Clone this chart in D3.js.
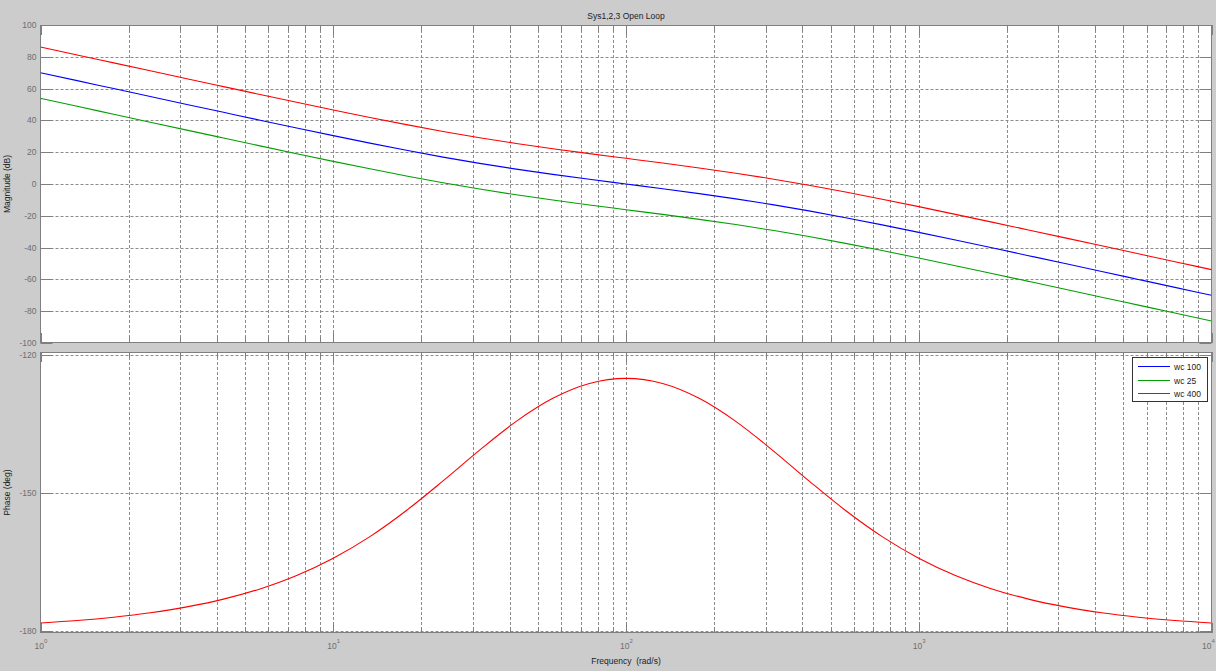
<!DOCTYPE html>
<html>
<head>
<meta charset="utf-8">
<script src="https://cdn.jsdelivr.net/npm/d3@7"></script>
<style>
  html, body { margin: 0; padding: 0; background: #cccccc; }
  svg { display: block; font-family: "Liberation Sans", Arial, sans-serif; }
  text { white-space: pre; }
</style>
</head>
<body>
<svg id="chart" width="1216" height="671"></svg>
<script>
// ---- data ----
const freqs = [1, 1.334, 1.778, 2.371, 3.162, 4.217, 5.623, 7.499,
  10, 13.34, 17.78, 23.71, 31.62, 42.17, 56.23, 74.99,
  100, 133.4, 177.8, 237.1, 316.2, 421.7, 562.3, 749.9,
  1000, 1334, 1778, 2371, 3162, 4217, 5623, 7499, 10000];

const magWc100 = [70.00, 65.01, 60.01, 55.02, 50.04, 45.08, 40.13, 35.24,
  30.41, 25.70, 21.18, 16.91, 12.97, 9.36, 6.06, 2.97,
  0.00, -2.97, -6.06, -9.36, -12.97, -16.91, -21.18, -25.70,
  -30.41, -35.24, -40.13, -45.08, -50.04, -55.02, -60.01, -65.01, -70.00];

const magWc25 = [53.84, 48.85, 43.85, 38.86, 33.88, 28.92, 23.97, 19.08,
  14.25, 9.54, 5.02, 0.75, -3.19, -6.80, -10.10, -13.19,
  -16.16, -19.13, -22.22, -25.52, -29.13, -33.07, -37.34, -41.86,
  -46.57, -51.40, -56.29, -61.24, -66.20, -71.18, -76.17, -81.17, -86.16];

const magWc400 = [86.16, 81.17, 76.17, 71.18, 66.20, 61.24, 56.29, 51.40,
  46.57, 41.86, 37.34, 33.07, 29.13, 25.52, 22.22, 19.13,
  16.16, 13.19, 10.10, 6.80, 3.19, -0.75, -5.02, -9.54,
  -14.25, -19.08, -23.97, -28.92, -33.88, -38.86, -43.85, -48.85, -53.84];

// phase is identical for all three systems; only the last-drawn (red) is visible
const phaseAll = [-178.37, -177.83, -177.10, -176.14, -174.86, -173.17, -170.94, -168.02,
  -164.26, -159.55, -153.86, -147.42, -140.71, -134.46, -129.44, -126.21,
  -125.10, -126.21, -129.44, -134.46, -140.71, -147.42, -153.86, -159.55,
  -164.26, -168.02, -170.94, -173.17, -174.86, -176.14, -177.10, -177.83, -178.37];

const seriesNames = ["wc 100", "wc 25", "wc 400"];
const seriesColors = ["#0000ff", "#00a000", "#ff0000"];
const magTicks = [-100, -80, -60, -40, -20, 0, 20, 40, 60, 80, 100];
const phaseTicks = [-180, -150, -120];
const decadeExps = [0, 1, 2, 3, 4];

const chartTitle = "Sys1,2,3 Open Loop";
const xTitle = "Frequency  (rad/s)";
const magTitle = "Magnitude (dB)";
const phaseTitle = "Phase (deg)";

// ---- layout ----
const svg = d3.select("#chart");
svg.append("rect").attr("width", 1216).attr("height", 671).attr("fill", "#cccccc");

const X0 = 40.5, X1 = 1211.5;
const magBox = { top: 25, bottom: 343 };
const phBox = { top: 352, bottom: 633 };

const x = d3.scaleLog().domain([1, 10000]).range([X0, X1]);
const yMag = d3.scaleLinear().domain([-100, 100]).range([magBox.bottom, magBox.top]);
const yPh = d3.scaleLinear().domain([-180, -120]).range([630.5, 355]);

const minorVals = [];
decadeExps.slice(0, -1).forEach(e => {
  for (let k = 2; k <= 9; k++) minorVals.push(k * Math.pow(10, e));
});
const majorVals = decadeExps.map(e => Math.pow(10, e));

const gridColor = "#8c8c8c";
const axisColor = "#7f7f7f";
const labelColor = "#6e6e6e";
const fontSize = 8.5;

function drawPanel(box, yScale, yTicks, clipId) {
  const g = svg.append("g");
  g.append("rect").attr("x", X0).attr("y", box.top)
    .attr("width", X1 - X0).attr("height", box.bottom - box.top)
    .attr("fill", "#ffffff");

  const vg = majorVals.slice(1, -1).concat(minorVals);
  g.selectAll(null).data(vg).enter().append("line")
    .attr("x1", d => Math.round(x(d)) + 0.5).attr("x2", d => Math.round(x(d)) + 0.5)
    .attr("y1", box.top).attr("y2", box.bottom)
    .attr("stroke", gridColor).attr("stroke-width", 1).attr("stroke-dasharray", "3,2");

  const hg = yTicks.filter(t => yScale(t) > box.top + 1 && yScale(t) < box.bottom - 1);
  g.selectAll(null).data(hg).enter().append("line")
    .attr("x1", X0).attr("x2", X1)
    .attr("y1", d => Math.round(yScale(d)) + 0.5).attr("y2", d => Math.round(yScale(d)) + 0.5)
    .attr("stroke", gridColor).attr("stroke-width", 1).attr("stroke-dasharray", "3,2");

  const tickG = g.append("g").attr("stroke", axisColor).attr("stroke-width", 1);
  majorVals.concat(minorVals).forEach(v => {
    const len = majorVals.includes(v) ? 10 : 6;
    const xx = Math.round(x(v)) + 0.5;
    tickG.append("line").attr("x1", xx).attr("x2", xx).attr("y1", box.top).attr("y2", box.top + len);
    tickG.append("line").attr("x1", xx).attr("x2", xx).attr("y1", box.bottom).attr("y2", box.bottom - len);
  });
  yTicks.forEach(t => {
    const yy = Math.round(yScale(t)) + 0.5;
    tickG.append("line").attr("x1", X0).attr("x2", X0 + 12).attr("y1", yy).attr("y2", yy);
    tickG.append("line").attr("x1", X1).attr("x2", X1 - 12).attr("y1", yy).attr("y2", yy);
  });

  g.selectAll(null).data(yTicks).enter().append("text")
    .attr("x", X0 - 4).attr("y", d => yScale(d) + 3)
    .attr("text-anchor", "end").attr("font-size", fontSize).attr("fill", labelColor)
    .text(d => d);

  g.append("rect").attr("x", X0).attr("y", box.top + 0.5)
    .attr("width", X1 - X0).attr("height", box.bottom - box.top - 1)
    .attr("fill", "none").attr("stroke", axisColor).attr("stroke-width", 1);

  svg.append("clipPath").attr("id", clipId).append("rect")
    .attr("x", X0).attr("y", box.top).attr("width", X1 - X0).attr("height", box.bottom - box.top);
  return g;
}

drawPanel(magBox, yMag, magTicks, "clipMag");
drawPanel(phBox, yPh, phaseTicks, "clipPh");

// ---- curves ----
const magSeries = [magWc100, magWc25, magWc400];
const lineMag = d3.line().x((d, i) => x(freqs[i])).y(d => yMag(d)).curve(d3.curveMonotoneX);
const linePh = d3.line().x((d, i) => x(freqs[i])).y(d => yPh(d)).curve(d3.curveMonotoneX);

const cm = svg.append("g").attr("clip-path", "url(#clipMag)");
magSeries.forEach((s, i) => {
  cm.append("path").attr("d", lineMag(s)).attr("fill", "none")
    .attr("stroke", seriesColors[i]).attr("stroke-width", 1.1);
});
// identical phase curves overlap exactly: draw the top (last) one only
const cp = svg.append("g").attr("clip-path", "url(#clipPh)");
cp.append("path").attr("d", linePh(phaseAll)).attr("fill", "none")
  .attr("stroke", seriesColors[seriesColors.length - 1]).attr("stroke-width", 1.1);

// ---- x tick labels (10^n) ----
decadeExps.forEach(e => {
  const xx = Math.min(x(Math.pow(10, e)) - 6, 1216 - 14);
  const t = svg.append("text").attr("x", xx).attr("y", 648.5)
    .attr("font-size", fontSize).attr("fill", labelColor);
  t.append("tspan").text("10");
  t.append("tspan").attr("dy", -6).attr("font-size", 6).text(String(e));
});

// ---- titles ----
svg.append("text").attr("x", 626).attr("y", 18.5).attr("text-anchor", "middle")
  .attr("font-size", fontSize).attr("fill", "#222").text(chartTitle);
svg.append("text").attr("x", 626).attr("y", 664).attr("text-anchor", "middle")
  .attr("font-size", fontSize).attr("fill", "#222").text(xTitle);
svg.append("text").attr("transform", `translate(10,${(magBox.top + magBox.bottom) / 2}) rotate(-90)`)
  .attr("text-anchor", "middle").attr("font-size", fontSize).attr("fill", "#222").text(magTitle);
svg.append("text").attr("transform", `translate(10,${(phBox.top + phBox.bottom) / 2}) rotate(-90)`)
  .attr("text-anchor", "middle").attr("font-size", fontSize).attr("fill", "#222").text(phaseTitle);

// ---- legend ----
const lg = svg.append("g");
lg.append("rect").attr("x", 1132.5).attr("y", 357.5).attr("width", 75).attr("height", 44)
  .attr("fill", "#ffffff").attr("stroke", "#333").attr("stroke-width", 1);
seriesNames.forEach((n, i) => {
  const yy = Math.round(366 + i * 13.5) + 0.5;
  lg.append("line").attr("x1", 1138).attr("x2", 1170).attr("y1", yy).attr("y2", yy)
    .attr("stroke", seriesColors[i]).attr("stroke-width", 1);
  lg.append("text").attr("x", 1174).attr("y", yy + 3).attr("font-size", fontSize)
    .attr("fill", "#222").text(n);
});
</script>
</body>
</html>
